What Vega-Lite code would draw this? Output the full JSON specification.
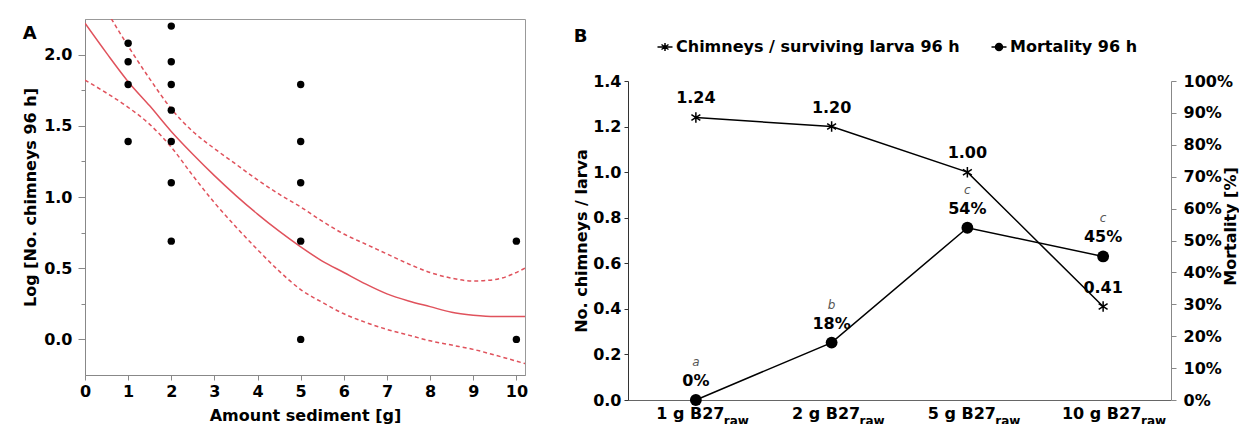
{
  "$schema": "https://vega.github.io/schema/vega-lite/v6.json",
  "background": "white",
  "padding": {"left": 22, "top": 18, "right": 0, "bottom": 0},
  "datasets": {
    "pts": [
      {"x": 1, "y": 2.08}, {"x": 1, "y": 1.95}, {"x": 1, "y": 1.79}, {"x": 1, "y": 1.39},
      {"x": 2, "y": 2.20}, {"x": 2, "y": 1.95}, {"x": 2, "y": 1.79}, {"x": 2, "y": 1.61}, {"x": 2, "y": 1.39}, {"x": 2, "y": 1.10}, {"x": 2, "y": 0.69},
      {"x": 5, "y": 1.79}, {"x": 5, "y": 1.39}, {"x": 5, "y": 1.10}, {"x": 5, "y": 0.69}, {"x": 5, "y": 0.00},
      {"x": 10, "y": 0.69}, {"x": 10, "y": 0.00}
    ],
    "fit": [
      {"x": 0, "fit": 2.22, "upper": 2.60, "lower": 1.82},
      {"x": 0.5, "fit": 2.01, "upper": 2.31, "lower": 1.73},
      {"x": 1.0, "fit": 1.81, "upper": 2.06, "lower": 1.63},
      {"x": 1.5, "fit": 1.64, "upper": 1.83, "lower": 1.51},
      {"x": 2.0, "fit": 1.46, "upper": 1.62, "lower": 1.35},
      {"x": 2.5, "fit": 1.30, "upper": 1.46, "lower": 1.15},
      {"x": 3.0, "fit": 1.15, "upper": 1.34, "lower": 0.96},
      {"x": 3.5, "fit": 1.01, "upper": 1.23, "lower": 0.79},
      {"x": 4.0, "fit": 0.88, "upper": 1.12, "lower": 0.63},
      {"x": 4.5, "fit": 0.76, "upper": 1.02, "lower": 0.48},
      {"x": 5.0, "fit": 0.65, "upper": 0.93, "lower": 0.35},
      {"x": 5.5, "fit": 0.55, "upper": 0.83, "lower": 0.26},
      {"x": 6.0, "fit": 0.47, "upper": 0.74, "lower": 0.18},
      {"x": 6.5, "fit": 0.39, "upper": 0.67, "lower": 0.12},
      {"x": 7.0, "fit": 0.32, "upper": 0.60, "lower": 0.07},
      {"x": 7.5, "fit": 0.27, "upper": 0.53, "lower": 0.03},
      {"x": 8.0, "fit": 0.23, "upper": 0.47, "lower": -0.01},
      {"x": 8.5, "fit": 0.19, "upper": 0.43, "lower": -0.04},
      {"x": 9.0, "fit": 0.17, "upper": 0.41, "lower": -0.07},
      {"x": 9.5, "fit": 0.16, "upper": 0.42, "lower": -0.11},
      {"x": 10.2, "fit": 0.16, "upper": 0.50, "lower": -0.17}
    ],
    "b": [
      {"group": "1 g B27raw", "chimneys": 1.24, "mortality": 0.00, "letter": "a"},
      {"group": "2 g B27raw", "chimneys": 1.20, "mortality": 0.18, "letter": "b"},
      {"group": "5 g B27raw", "chimneys": 1.00, "mortality": 0.54, "letter": "c"},
      {"group": "10 g B27raw", "chimneys": 0.41, "mortality": 0.45, "letter": "c"}
    ],
    "legend": [
      {"series": "Chimneys / surviving larva 96 h"},
      {"series": "Mortality 96 h"}
    ]
  },
  "spacing": 44,
  "hconcat": [
    {
      "width": 440,
      "height": 356,
      "view": {"stroke": "#999", "strokeWidth": 1},
      "title": {"text": "A", "anchor": "start", "frame": "bounds", "fontSize": 18, "fontWeight": "bold", "font": "DejaVu Sans", "color": "black", "dy": 27.5},
      "layer": [
        {
          "data": {"name": "fit"},
          "mark": {"type": "line", "color": "#e0525c", "strokeWidth": 1.5, "clip": true, "interpolate": "monotone"},
          "encoding": {
            "x": {"field": "x", "type": "quantitative", "title": "Amount sediment [g]",
              "scale": {"domain": [0, 10.2], "nice": false, "zero": false},
              "axis": {"values": [0, 1, 2, 3, 4, 5, 6, 7, 8, 9, 10], "format": "d", "tickSize": 5, "labelPadding": 3, "titlePadding": 8}},
            "y": {"field": "fit", "type": "quantitative", "title": "Log [No. chimneys 96 h]",
              "scale": {"domain": [-0.25, 2.25], "nice": false, "zero": false},
              "axis": {"values": [0, 0.25, 0.5, 0.75, 1, 1.25, 1.5, 1.75, 2],
                "labelExpr": "datum.value % 0.5 == 0 ? format(datum.value, '.1f') : ''",
                "tickSize": {"condition": {"test": "datum.value % 0.5 != 0", "value": 4}, "value": 7},
                "labelPadding": 6, "titlePadding": 5}}
          }
        },
        {
          "data": {"name": "fit"},
          "mark": {"type": "line", "color": "#e0525c", "strokeWidth": 1.5, "strokeDash": [4, 3], "clip": true, "interpolate": "monotone"},
          "encoding": {
            "x": {"field": "x", "type": "quantitative", "title": "Amount sediment [g]"},
            "y": {"field": "upper", "type": "quantitative", "title": "Log [No. chimneys 96 h]"}
          }
        },
        {
          "data": {"name": "fit"},
          "mark": {"type": "line", "color": "#e0525c", "strokeWidth": 1.5, "strokeDash": [4, 3], "clip": true, "interpolate": "monotone"},
          "encoding": {
            "x": {"field": "x", "type": "quantitative", "title": "Amount sediment [g]"},
            "y": {"field": "lower", "type": "quantitative", "title": "Log [No. chimneys 96 h]"}
          }
        },
        {
          "data": {"name": "pts"},
          "mark": {"type": "circle", "color": "black", "size": 55, "opacity": 1},
          "encoding": {
            "x": {"field": "x", "type": "quantitative", "title": "Amount sediment [g]"},
            "y": {"field": "y", "type": "quantitative", "title": "Log [No. chimneys 96 h]"}
          }
        }
      ]
    },
    {
      "spacing": 0,
      "vconcat": [
        {
          "width": 10,
          "height": 1,
          "view": {"stroke": null},
          "data": {"values": [{"spacer": 1}]},
          "mark": {"type": "point", "opacity": 0, "size": 0, "strokeWidth": 0}
        },
        {
          "width": 543,
          "height": 319,
          "view": {"stroke": null},
          "title": {"text": "B", "anchor": "start", "frame": "bounds", "fontSize": 18, "fontWeight": "bold", "font": "DejaVu Sans", "color": "black", "dy": 30},
          "data": {"name": "b"},
          "layer": [
            {
              "encoding": {
                "x": {"field": "group", "type": "nominal", "sort": null, "title": null,
                  "scale": {"domain": ["1 g B27raw", "2 g B27raw", "5 g B27raw", "10 g B27raw"], "paddingInner": 0, "paddingOuter": 0},
                  "axis": {"orient": "bottom", "domainColor": "#666", "ticks": false, "labelPadding": 5, "labelAngle": 0,
                    "labelExpr": "replace(datum.label, 'raw', '')",
                    "labelOffset": {"condition": {"test": "datum.value === '10 g B27raw'", "value": -2}, "value": -6}}},
                "y": {"field": "chimneys", "type": "quantitative", "title": "No. chimneys / larva",
                  "scale": {"domain": [0, 1.4], "nice": false},
                  "axis": {"orient": "left", "values": [0, 0.2, 0.4, 0.6, 0.8, 1.0, 1.2, 1.4], "format": ".1f",
                    "domainColor": "#333", "tickColor": "#333", "tickSize": 4, "labelPadding": 3, "titlePadding": 3}}
              },
              "layer": [
                {"mark": {"type": "line", "color": "black", "strokeWidth": 1.5}},
                {"mark": {"type": "point", "shape": "M0,-1L0,1M-0.85,-0.55L0.85,0.55M-0.85,0.55L0.85,-0.55", "filled": false, "color": "black", "strokeWidth": 1.5, "size": 110, "opacity": 1}},
                {"mark": {"type": "text", "dy": -19, "fontSize": 16, "fontWeight": "bold", "font": "DejaVu Sans", "color": "black"},
                  "encoding": {"text": {"field": "chimneys", "type": "quantitative", "format": ".2f"}}},
                {
                  "data": {"name": "legend"},
                  "mark": {"type": "point", "opacity": 0, "filled": false, "fill": "black", "stroke": "black", "strokeWidth": 1.5},
                  "encoding": {
                    "x": {"value": 0},
                    "y": {"value": 0},
                    "shape": {"field": "series", "type": "nominal",
                      "scale": {"domain": ["Chimneys / surviving larva 96 h", "Mortality 96 h"],
                        "range": ["M-1.5,0L1.5,0M0,-0.8L0,0.8M-0.7,-0.5L0.7,0.5M-0.7,0.5L0.7,-0.5",
                          "M-1.5,0L-0.7,0M0.7,0L1.5,0M-0.7,0A0.7,0.7,0,1,1,0.7,0A0.7,0.7,0,1,1,-0.7,0Z"]},
                      "legend": {"orient": "none", "legendX": 10, "legendY": -61, "direction": "horizontal", "columns": 2, "title": null,
                        "padding": 19, "fillColor": "white", "symbolSize": 100,
                        "symbolStrokeWidth": 1.5, "symbolOpacity": 1, "labelFont": "DejaVu Sans", "labelFontSize": 16, "labelFontWeight": "bold",
                        "labelColor": "black", "labelOffset": 3, "columnPadding": 28, "labelLimit": 400}}
                  }
                }
              ]
            },
            {
              "encoding": {
                "x": {"field": "group", "type": "nominal", "sort": null, "title": null,
                  "scale": {"domain": ["1 g B27raw", "2 g B27raw", "5 g B27raw", "10 g B27raw"], "paddingInner": 0, "paddingOuter": 0},
                  "axis": {"orient": "bottom", "domain": false, "ticks": false, "labelExpr": "'raw'", "labelFontSize": 12, "labelPadding": 15, "labelAngle": 0,
                    "labelOffset": {"condition": {"test": "datum.value === '10 g B27raw'", "value": 50}, "value": 40}}},
                "y": {"field": "mortality", "type": "quantitative", "title": "Mortality [%]",
                  "scale": {"domain": [0, 1], "nice": false},
                  "axis": {"orient": "right", "values": [0, 0.1, 0.2, 0.3, 0.4, 0.5, 0.6, 0.7, 0.8, 0.9, 1], "format": ".0%",
                    "domainColor": "#888", "tickColor": "#888", "tickSize": 5, "labelPadding": 7, "titlePadding": 6, "titleAngle": 270, "titleY": 145}}
              },
              "layer": [
                {"mark": {"type": "line", "color": "black", "strokeWidth": 1.5}},
                {"mark": {"type": "point", "shape": "circle", "filled": true, "color": "black", "size": 140, "opacity": 1}},
                {"mark": {"type": "text", "dy": -19, "fontSize": 16, "fontWeight": "bold", "font": "DejaVu Sans", "color": "black"},
                  "encoding": {"text": {"field": "mortality", "type": "quantitative", "format": ".0%"}}},
                {"mark": {"type": "text", "dy": -38, "fontSize": 12, "fontStyle": "italic", "font": "DejaVu Sans", "color": "#555"},
                  "encoding": {"text": {"field": "letter", "type": "nominal"}}}
              ]
            }
          ],
          "resolve": {"scale": {"x": "independent", "y": "independent"}}
        }
      ],
      "resolve": {"scale": {"shape": "independent"}, "legend": {"shape": "independent"}}
    }
  ],
  "resolve": {"scale": {"shape": "independent"}, "legend": {"shape": "independent"}},
  "config": {
    "font": "DejaVu Sans",
    "axis": {"labelFont": "DejaVu Sans", "labelFontSize": 16, "labelFontWeight": "bold", "labelColor": "black",
      "titleFont": "DejaVu Sans", "titleFontSize": 16, "titleFontWeight": "bold", "titleColor": "black",
      "domainColor": "#888", "tickColor": "#888", "grid": false, "labelOverlap": false, "labelFlush": false}
  }
}
